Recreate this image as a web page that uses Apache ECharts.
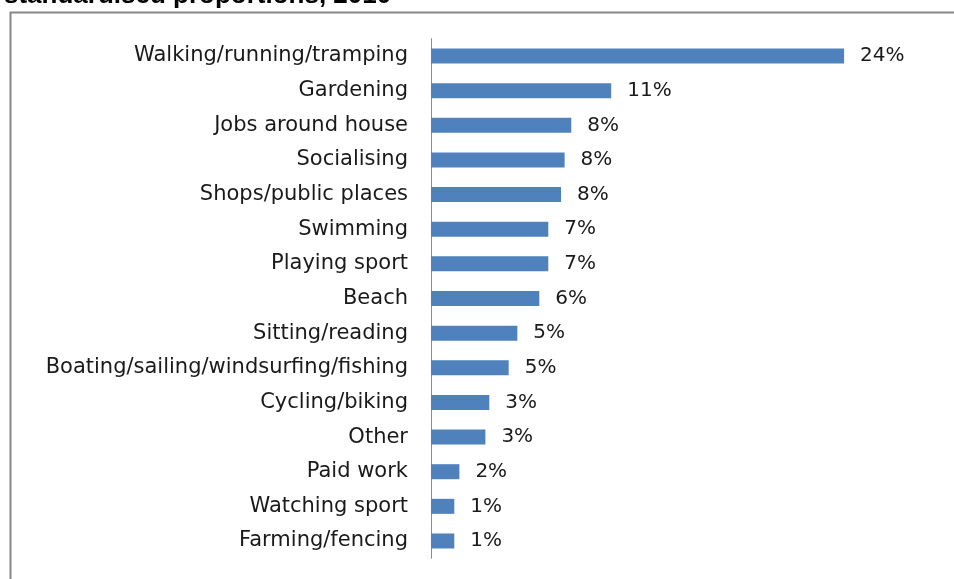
<!DOCTYPE html>
<html>
<head>
<meta charset="utf-8">
<script src="https://cdn.jsdelivr.net/npm/echarts@6/dist/echarts.min.js"></script>
<style>html,body{margin:0;padding:0;background:#fff;}#c{width:954px;height:579px;}</style>
</head>
<body>
<div id="c"></div>
<script>
const categories = ['Walking/running/tramping','Gardening','Jobs around house','Socialising','Shops/public places','Swimming','Playing sport','Beach','Sitting/reading','Boating/sailing/windsurfing/fishing','Cycling/biking','Other','Paid work','Watching sport','Farming/fencing'];
const values = [24.3, 10.6, 8.25, 7.86, 7.65, 6.9, 6.9, 6.37, 5.08, 4.57, 3.43, 3.2, 1.67, 1.37, 1.37];
const titleText = 'standardised proportions, 2010';

const chart = echarts.init(document.getElementById('c'));
chart.setOption({
  animation: false,
  grid: { left: 431, right: 13, top: 38.7, bottom: 20.7, containLabel: false },
  xAxis: { type: 'value', min: 0, max: 30, show: false },
  yAxis: {
    type: 'category', inverse: true, data: categories,
    axisLine: { lineStyle: { color: '#8c8c8c', width: 1 } },
    axisTick: { length: 10, lineStyle: { color: '#8c8c8c' } },
    axisLabel: { margin: 23, color: '#1a1a1a', fontFamily: 'DejaVu Sans', fontSize: 21 }
  },
  series: [{
    type: 'bar', data: values, barWidth: 15,
    itemStyle: { color: '#4F81BD' },
    label: { show: true, position: 'right', distance: 16, color: '#1a1a1a', fontFamily: 'DejaVu Sans', fontSize: 20,
      formatter: p => Math.round(p.value) + '%' }
  }],
  graphic: [
    { type: 'rect', left: 8, top: 10, shape: { width: 1000, height: 700 }, style: { fill: 'none', stroke: '#878787', lineWidth: 2 }, silent: true },
    { type: 'text', x: 4, y: 9, style: { text: titleText, font: 'bold 26px "Liberation Sans"', fill: '#000', verticalAlign: 'bottom' } }
  ]
});
</script>
</body>
</html>
